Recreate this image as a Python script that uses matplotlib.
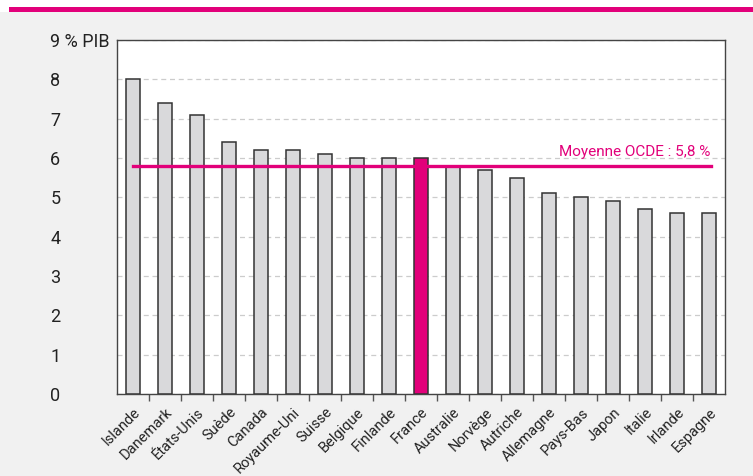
import matplotlib.pyplot as plt
from matplotlib.patches import Rectangle

pays = ['Islande', 'Danemark', 'États-Unis', 'Suède', 'Canada', 'Royaume-Uni', 'Suisse',
        'Belgique', 'Finlande', 'France', 'Australie', 'Norvège', 'Autriche', 'Allemagne',
        'Pays-Bas', 'Japon', 'Italie', 'Irlande', 'Espagne']
valeurs = [8.0, 7.4, 7.1, 6.4, 6.2, 6.2, 6.1, 6.0, 6.0, 6.0, 5.8, 5.7, 5.5, 5.1,
           5.0, 4.9, 4.7, 4.6, 4.6]
moyenne_ocde = 5.8
yticks = [0, 1, 2, 3, 4, 5, 6, 7, 8, 9]
ylabels = ['0', '1', '2', '3', '4', '5', '6', '7', '8', '9 % PIB']

rose = '#e2007a'
plt.rcParams['font.family'] = ['Roboto', 'DejaVu Sans']

fig = plt.figure(figsize=(7.53, 4.76), dpi=100)
fig.patch.set_facecolor('white')
# fond gris et bandeau rose en haut
fig.add_artist(Rectangle((0, 0), 1, 1 - 12 / 476, transform=fig.transFigure,
                         facecolor='#f1f1f1', edgecolor='none', zorder=-10))
fig.add_artist(Rectangle((9 / 753, 1 - 12 / 476), 1, 5 / 476, transform=fig.transFigure,
                         facecolor=rose, edgecolor='none', zorder=-9))

ax = fig.add_axes([117 / 753, 82 / 476, 608 / 753, 354 / 476])
ax.set_facecolor('white')

x = list(range(len(pays)))
couleurs = [rose if p == 'France' else '#d9d9db' for p in pays]
ax.bar(x, valeurs, width=0.45, color=couleurs, edgecolor='#333333', linewidth=1.1, zorder=3)

ax.plot([0, 18.05], [moyenne_ocde, moyenne_ocde], color=rose, lw=2.4, zorder=4)
ax.text(18.05, moyenne_ocde + 0.18, 'Moyenne OCDE : 5,8 %', color=rose, fontsize=11,
        ha='right', va='bottom', zorder=5)

ax.set_xlim(-0.5, len(pays) - 0.5)
ax.set_ylim(0, 9)
ax.set_yticks(yticks)
ax.set_yticklabels(ylabels, fontsize=13, color='#222222', ha='left')
ax.tick_params(axis='y', length=0, pad=48)
ax.yaxis.grid(True, color='#cccccc', linestyle=(0, (4, 3)), lw=0.9, zorder=0)

ax.set_xticks(x)
ax.set_xticklabels(pays, rotation=45, ha='right', rotation_mode='anchor', fontsize=10.5,
                   color='#222222')
ax.tick_params(axis='x', which='major', length=0, pad=8)
ax.set_xticks([i + 0.5 for i in x[:-1]], minor=True)
ax.tick_params(axis='x', which='minor', length=5, width=1, color='#555555', direction='out')

for s in ax.spines.values():
    s.set_color('#444444')
    s.set_linewidth(1)

fig.savefig('out.png', dpi=100, facecolor=fig.get_facecolor())
